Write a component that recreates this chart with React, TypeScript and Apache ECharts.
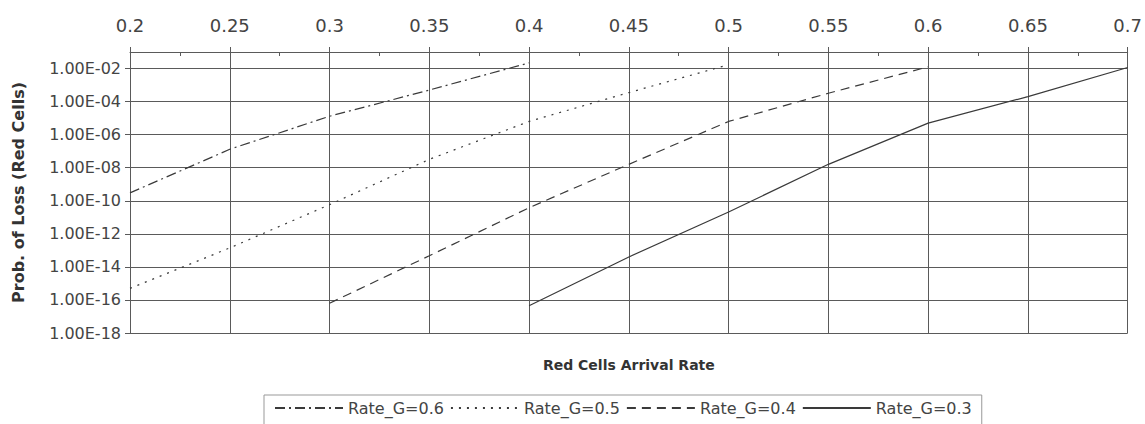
import React, { useEffect, useRef } from "react";
import * as echarts from "echarts";

const xTicks = [0.2, 0.25, 0.3, 0.35, 0.4, 0.45, 0.5, 0.55, 0.6, 0.65, 0.7];

const x06 = [0.2, 0.25, 0.3, 0.35, 0.4];
const p06 = [3e-10, 1.3e-7, 1.3e-5, 5e-4, 2.2e-2];

const x05 = [0.2, 0.25, 0.3, 0.35, 0.4, 0.45, 0.5];
const p05 = [5e-16, 1.4e-13, 5.8e-11, 3.2e-8, 6.3e-6, 3.5e-4, 1.7e-2];

const x04 = [0.3, 0.35, 0.4, 0.45, 0.5, 0.55, 0.6];
const p04 = [6.3e-17, 4.7e-14, 3.8e-11, 1.6e-8, 6.3e-6, 3.2e-4, 1.26e-2];

const x03 = [0.4, 0.45, 0.5, 0.55, 0.6, 0.65, 0.7];
const p03 = [4.4e-17, 4e-14, 2.1e-11, 1.6e-8, 5e-6, 2e-4, 1.15e-2];

const seriesNames = ["Rate_G=0.6", "Rate_G=0.5", "Rate_G=0.4", "Rate_G=0.3"];

const toPairs = (xs: number[], ps: number[]) => xs.map((x, i) => [x, Math.log10(ps[i])]);

export default function App() {
  const ref = useRef<HTMLDivElement>(null);
  useEffect(() => {
    if (!ref.current) return;
    const chart = echarts.init(ref.current, null, { renderer: "svg" });
    const lineColor = "#3a3a3a";
    const gridColor = "#5a5a5a";
    const font = "DejaVu Sans";
    const mk = (name: string, data: number[][], type: any) => ({
      name,
      type: "line",
      data,
      symbol: "none",
      showSymbol: false,
      xAxisIndex: 0,
      lineStyle: { color: lineColor, width: 1.2, type },
      itemStyle: { color: lineColor },
    });
    chart.setOption({
      animation: false,
      backgroundColor: "#ffffff",
      grid: { left: 130, right: 17, top: 52, bottom: 91, containLabel: false },
      xAxis: [
        {
          type: "value",
          position: "top",
          min: xTicks[0],
          max: xTicks[xTicks.length - 1],
          interval: 0.05,
          axisLine: { show: true, lineStyle: { color: gridColor, width: 1 } },
          axisTick: { show: true, length: 5, lineStyle: { color: gridColor } },
          minorTick: { show: true, splitNumber: 2, length: -4, lineStyle: { color: gridColor } },
          splitLine: { show: true, lineStyle: { color: gridColor, width: 1 } },
          axisLabel: {
            margin: 18,
            fontFamily: font,
            fontSize: 18,
            color: "#444",
            formatter: (v: number) => String(parseFloat(v.toFixed(2))),
          },
        },
        {
          type: "value",
          position: "bottom",
          min: xTicks[0],
          max: xTicks[xTicks.length - 1],
          name: "Red Cells Arrival Rate",
          nameLocation: "middle",
          nameGap: 25,
          nameTextStyle: { fontFamily: font, fontSize: 14, fontWeight: "bold", color: "#333" },
          axisLine: { show: false },
          axisTick: { show: false },
          axisLabel: { show: false },
          splitLine: { show: false },
        },
      ],
      yAxis: {
        type: "value",
        min: -18,
        max: -1,
        interval: 2,
        name: "Prob. of Loss (Red Cells)",
        nameLocation: "middle",
        nameGap: 104,
        nameTextStyle: { fontFamily: font, fontSize: 16, fontWeight: "bold", color: "#333" },
        axisLine: { show: true, lineStyle: { color: gridColor, width: 1 } },
        axisTick: { show: true, length: 5, lineStyle: { color: gridColor } },
        splitLine: { show: true, lineStyle: { color: gridColor, width: 1 } },
        axisLabel: {
          margin: 9,
          fontFamily: font,
          fontSize: 16,
          color: "#444",
          showMaxLabel: false,
          formatter: (v: number) => {
            const e = Math.round(-v);
            if (e % 2 !== 0) return "";
            return "1.00E-" + String(e).padStart(2, "0");
          },
        },
      },
      legend: {
        data: seriesNames,
        left: 264,
        top: 395,
        orient: "horizontal",
        itemWidth: 68,
        itemHeight: 10,
        itemGap: 6,
        padding: [5, 10, 10, 10],
        borderColor: "#999",
        borderWidth: 1,
        itemStyle: { opacity: 0 },
        textStyle: { fontFamily: font, fontSize: 16, color: "#444" },
      },
      series: [
        mk(seriesNames[0], toPairs(x06, p06), [10, 4, 2, 4]),
        mk(seriesNames[1], toPairs(x05, p05), [2, 6]),
        mk(seriesNames[2], toPairs(x04, p04), [9, 6]),
        mk(seriesNames[3], toPairs(x03, p03), "solid"),
      ],
    });
    return () => chart.dispose();
  }, []);
  return (
    <div
      ref={ref}
      style={{ position: "fixed", left: 0, top: 0, width: 1145, height: 424, background: "#fff" }}
    />
  );
}
